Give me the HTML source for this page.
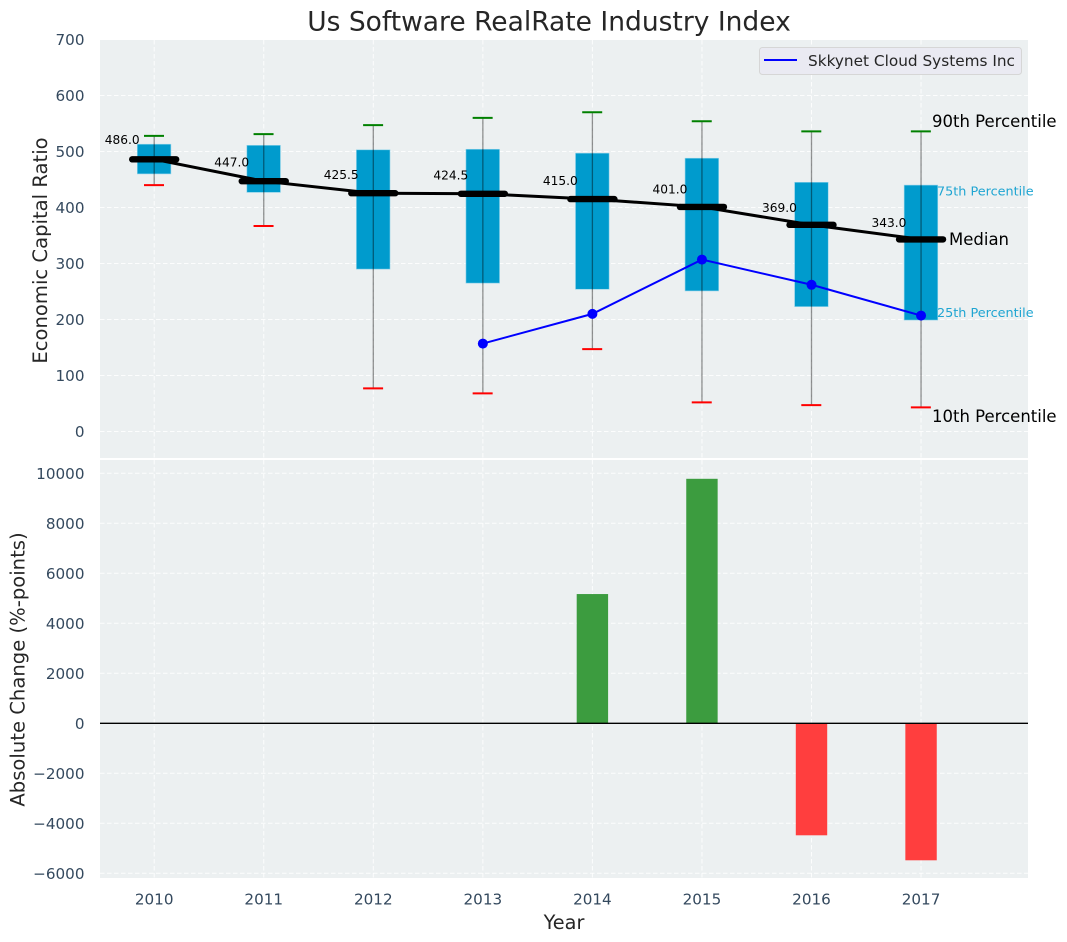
<!DOCTYPE html>
<html lang="en">
<head>
<meta charset="utf-8">
<title>Us Software RealRate Industry Index</title>
<style>
html,body{margin:0;padding:0;background:#fff;width:1067px;height:942px;overflow:hidden}
svg{display:block;font-family:"DejaVu Sans","Liberation Sans",sans-serif}
</style>
</head>
<body>
<svg id="chart" xmlns="http://www.w3.org/2000/svg" width="1067" height="942" viewBox="0 0 1067 942">
  <rect x="100" y="40" width="928" height="418" fill="#ecf0f1"/>
  <rect x="100" y="460" width="928" height="418" fill="#ecf0f1"/>
  <g id="grid"></g>
  <g id="marks"></g>
  <g id="ticks"></g>
  <text x="549" y="30.5" text-anchor="middle" font-size="26.5" fill="#262626">Us Software RealRate Industry Index</text>
  <text transform="translate(47,250.5) rotate(-90)" text-anchor="middle" font-size="19.6" fill="#262626">Economic Capital Ratio</text>
  <text transform="translate(24.5,669.5) rotate(-90)" text-anchor="middle" font-size="19.6" fill="#262626">Absolute Change (%-points)</text>
  <text x="564" y="929" text-anchor="middle" font-size="19.3" fill="#262626">Year</text>
  <g>
    <rect x="759.5" y="47.5" width="262" height="27" rx="3" fill="#eaeaf2" stroke="#d6d6d6" stroke-width="1"/>
    <line x1="764" y1="60" x2="797" y2="60" stroke="#0000ff" stroke-width="2"/>
    <text x="808" y="66" font-size="15.3" fill="#262626">Skkynet Cloud Systems Inc</text>
  </g>
  <g>
    <text x="932" y="127" font-size="16.5" fill="#000">90th Percentile</text>
    <text x="937" y="195.5" font-size="12.8" fill="#1fa5d2">75th Percentile</text>
    <text x="949" y="245" font-size="16.5" fill="#000">Median</text>
    <text x="937" y="317" font-size="12.8" fill="#1fa5d2">25th Percentile</text>
    <text x="932" y="422" font-size="16.5" fill="#000">10th Percentile</text>
  </g>
</svg>
<script>
const years = [2010, 2011, 2012, 2013, 2014, 2015, 2016, 2017];
const p90 = [528, 531, 547, 560, 570, 554, 536, 536];
const p75 = [513, 511, 503, 504, 497, 488, 445, 440];
const medians = [486.0, 447.0, 425.5, 424.5, 415.0, 401.0, 369.0, 343.0];
const p25 = [460, 427, 290, 265, 254, 251, 223, 199];
const p10 = [440, 367, 77, 68, 147, 52, 47, 43];
const companyYears = [2013, 2014, 2015, 2016, 2017];
const companyValues = [157, 210, 307, 262, 207];
const changeYears = [2014, 2015, 2016, 2017];
const changeValues = [5170, 9780, -4480, -5480];
const topTicks = [0, 100, 200, 300, 400, 500, 600, 700];
const bottomTicks = [-6000, -4000, -2000, 0, 2000, 4000, 6000, 8000, 10000];

const NS = 'http://www.w3.org/2000/svg';
const xScale = function (year) { return 154.2 + (year - 2010) * 109.55; };
const yTop = function (v) { return 431.5 - v * 0.56; };
const yBottom = function (v) { return 723.3 - v * 0.025; };

const gridGroup = document.getElementById('grid');
const marks = document.getElementById('marks');
const tickGroup = document.getElementById('ticks');

function make(tag, parent, attrs, text) {
  const el = document.createElementNS(NS, tag);
  Object.keys(attrs).forEach(function (k) { el.setAttribute(k, attrs[k]); });
  if (text !== undefined) el.textContent = text;
  parent.appendChild(el);
  return el;
}

const gridStyle = { stroke: '#ffffff', 'stroke-width': 1, 'stroke-dasharray': '4.5 2.5', 'stroke-opacity': 0.85 };

topTicks.forEach(function (t) {
  const y = yTop(t);
  const line = make('line', gridGroup, Object.assign({ x1: 100, x2: 1028, y1: y, y2: y }, gridStyle));
  
  
  const label = make('text', tickGroup, { x: 84.5, y: y + 5.5, 'text-anchor': 'end', 'font-size': 15.2, fill: '#34495e' }, String(t));
  
  
});

bottomTicks.forEach(function (t) {
  const y = yBottom(t);
  const line = make('line', gridGroup, Object.assign({ x1: 100, x2: 1028, y1: y, y2: y }, gridStyle));
  
  
  const label = make('text', tickGroup, { x: 84.5, y: y + 5.5, 'text-anchor': 'end', 'font-size': 15.2, fill: '#34495e' }, String(t).replace('-', '\u2212'));
  
  
});

years.forEach(function (yr) {
  const x = xScale(yr);
  const top = make('line', gridGroup, Object.assign({ x1: x, x2: x, y1: 40, y2: 458 }, gridStyle));
  
  
  const bot = make('line', gridGroup, Object.assign({ x1: x, x2: x, y1: 460, y2: 878 }, gridStyle));
  
  
  const label = make('text', tickGroup, { x: x, y: 904.5, 'text-anchor': 'middle', 'font-size': 15.2, fill: '#34495e' }, String(yr));
  
  
});

years.forEach(function (yr, i) {
  const x = xScale(yr);
  const box = make('rect', marks, {
    x: x - 16.9, width: 33.6,
    y: yTop(p75[i]), height: yTop(p25[i]) - yTop(p75[i]),
    fill: '#009bcd', stroke: '#8fd3ea', 'stroke-width': 0.6
  });
  
  
  const whisker = make('line', marks, { x1: x, x2: x, y1: yTop(p90[i]), y2: yTop(p10[i]), stroke: '#000', 'stroke-opacity': 0.42, 'stroke-width': 1.3 });
  
  
  const capHigh = make('line', marks, { x1: x - 10.2, x2: x + 9.8, y1: yTop(p90[i]), y2: yTop(p90[i]), stroke: '#008000', 'stroke-width': 2 });
  
  
  const capLow = make('line', marks, { x1: x - 10.2, x2: x + 9.8, y1: yTop(p10[i]), y2: yTop(p10[i]), stroke: '#ff0000', 'stroke-width': 2 });
  
  
});

const medianPath = make('polyline', marks, {
  points: years.map(function (yr, i) { return xScale(yr) + ',' + yTop(medians[i]); }).join(' '),
  fill: 'none', stroke: '#000', 'stroke-width': 3
});



years.forEach(function (yr, i) {
  const x = xScale(yr);
  const y = yTop(medians[i]);
  const seg = make('line', marks, { x1: x - 22, x2: x + 22, y1: y, y2: y, stroke: '#000', 'stroke-width': 6.4, 'stroke-linecap': 'round' });
  
  
  const label = make('text', marks, { x: x - 49.5, y: y - (0.0224 * medians[i] + 8.96) + 4.4, 'font-size': 12.2, fill: '#000' }, medians[i].toFixed(1));
  
  
});

const companyPath = make('polyline', marks, {
  points: companyYears.map(function (yr, i) { return xScale(yr) + ',' + yTop(companyValues[i]); }).join(' '),
  fill: 'none', stroke: '#0000ff', 'stroke-width': 2
});



companyYears.forEach(function (yr, i) {
  const dot = make('circle', marks, { cx: xScale(yr), cy: yTop(companyValues[i]), r: 5, fill: '#0000ff' });
  
  
});

changeYears.forEach(function (yr, i) {
  const v = changeValues[i];
  const y0 = yBottom(0);
  const y1 = yBottom(v);
  const bar = make('rect', marks, {
    x: xScale(yr) - 15.7, width: 31.4,
    y: Math.min(y0, y1), height: Math.abs(y1 - y0),
    fill: v >= 0 ? '#3c9c3f' : '#ff3e3e'
  });
  
  
});

const zero = make('line', marks, { x1: 100, x2: 1028, y1: yBottom(0), y2: yBottom(0), stroke: '#000', 'stroke-width': 1.4 });


</script>
</body>
</html>
